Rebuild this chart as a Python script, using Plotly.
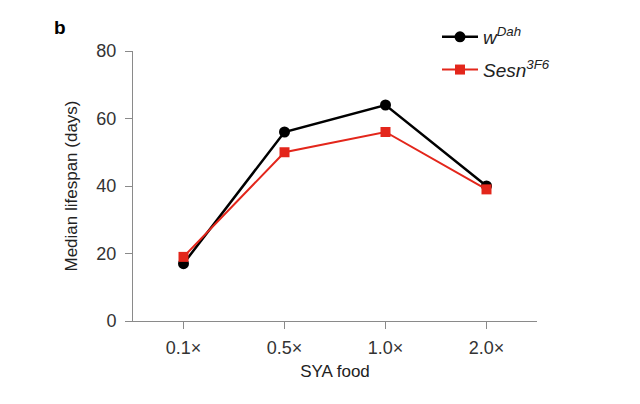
import plotly.graph_objects as go

categories = ["0.1×", "0.5×", "1.0×", "2.0×"]
wdah_values = [17, 56, 64, 40]
sesn_values = [19, 50, 56, 39]
y_ticks = [0, 20, 40, 60, 80]

FONT = "Liberation Sans, Arial, sans-serif"

fig = go.Figure()
fig.add_trace(go.Scatter(
    x=categories, y=wdah_values, mode="lines+markers",
    name="<i>w</i><sup><i>Dah</i></sup>",
    line=dict(color="#000000", width=2.5),
    marker=dict(symbol="circle", size=11, color="#000000"),
    legendgroup="a",
))
fig.add_trace(go.Scatter(
    x=categories, y=sesn_values, mode="lines+markers",
    name="<i>Sesn</i><sup><i>3F6</i></sup>",
    line=dict(color="#e3261b", width=2),
    marker=dict(symbol="square", size=10, color="#e3261b"),
    legendgroup="b",
))

axis_common = dict(
    showline=True, linecolor="#8a8a8a", linewidth=1,
    ticks="outside", ticklen=7, tickcolor="#8a8a8a", tickwidth=1,
    showgrid=False, zeroline=False,
    tickfont=dict(family=FONT, size=18, color="#333333"),
)

# page body adds an 8px offset; compensate so the plot lands where the reference has it
OFF = 8
L, R, T, B = 133 - OFF, 103 + OFF, 51 - OFF, 83 + OFF
W, H = 640 - L - R, 404 - T - B

fig.update_layout(
    width=640, height=404,
    margin=dict(l=L, r=R, t=T, b=B, autoexpand=False),
    paper_bgcolor="white", plot_bgcolor="white",
    font=dict(family=FONT, color="#222222"),
    xaxis=dict(
        type="category", range=[-0.5, 3.5], ticklabelstandoff=3,
        title=dict(text="SYA food", font=dict(family=FONT, size=17, color="#222222"), standoff=8),
        **axis_common,
    ),
    yaxis=dict(
        range=[0, 80], tickvals=y_ticks, ticklabelstandoff=5,
        title=dict(text="Median lifespan (days)", font=dict(family=FONT, size=17, color="#222222"), standoff=14),
        **axis_common,
    ),
    legend=dict(
        x=(437 - OFF - L) / W, xref="paper", y=1 + (T - (18 - OFF)) / H, yref="paper",
        yanchor="top", xanchor="left",
        font=dict(family=FONT, size=19, color="#222222"),
        bgcolor="rgba(0,0,0,0)", tracegroupgap=5, itemwidth=36,
    ),
    showlegend=True,
)

fig.add_annotation(
    text="<b>b</b>", xref="paper", yref="paper",
    x=(60 - OFF - L) / W, y=1 + (T - (27 - OFF)) / H,
    showarrow=False, font=dict(family=FONT, size=19, color="#000000"),
    xanchor="center", yanchor="middle",
)

fig.write_html("out.html")
